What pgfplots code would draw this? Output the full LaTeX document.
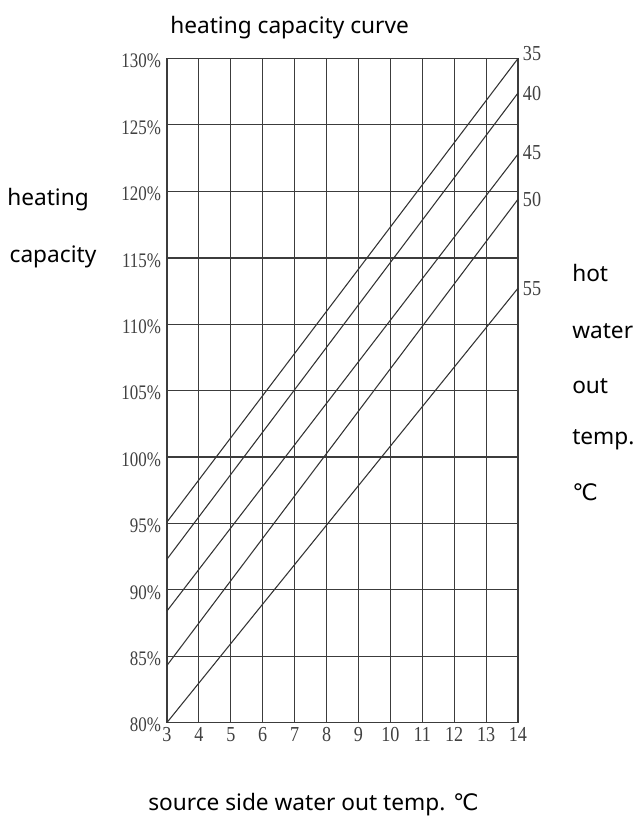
\documentclass[border=0pt]{standalone}
\usepackage{pgfplots}
\usepackage{pgfplotstable}
\pgfplotsset{compat=1.18}
\usepackage{fontspec}
\setmainfont{Liberation Serif}
\newfontfamily\labfont{Noto Sans}
\newfontfamily\symfont{DejaVu Sans}
\definecolor{gridc}{RGB}{60,60,60}
\pgfplotstableread{
x y
3 100
14 100
}\hundred
\pgfplotstableread{
x y
3 115
14 115
}\hfifteen
\begin{document}
\begin{tikzpicture}
\path[use as bounding box] (-125.25pt,-74.625pt) rectangle (350.25pt,541.875pt);
\begin{axis}[
  at={(0,0)}, anchor=south west,
  scale only axis,
  width=263.25pt, height=498pt,
  xmin=3, xmax=14, ymin=80, ymax=130,
  xtick={3,4,...,14},
  ytick={80,85,...,130},
  grid=major,
  major grid style={draw=gridc, line width=0.8pt},
  axis line style={draw=gridc, line width=0.9pt},
  tick style={draw=none},
  /pgf/number format/assume math mode=true,
  yticklabel={\scalebox{0.82}[1]{\pgfmathprintnumber{\tick}\%}},
  yticklabel style={font=\fontsize{15.5}{16}\selectfont, text=black!75, xshift=-1pt, yshift=-2pt},
  xticklabel={\scalebox{0.85}[1]{\pgfmathprintnumber{\tick}}},
  xticklabel style={font=\fontsize{16}{16}\selectfont, text=black!75},
  clip=false,
]
\addplot[gridc, line width=1.4pt, forget plot] table[x=x,y=y] {\hundred};
\addplot[gridc, line width=1.5pt, forget plot] table[x=x,y=y] {\hfifteen};
\addplot[black!80, line width=0.8pt] coordinates {(3,95.1) (14,130)} node[pos=1, anchor=west, font=\fontsize{16}{16}\selectfont, text=black!75, yshift=4pt, xshift=0pt] {\scalebox{0.85}[1]{35}};
\addplot[black!80, line width=0.8pt] coordinates {(3,92.3) (14,127.4)} node[pos=1, anchor=west, font=\fontsize{16}{16}\selectfont, text=black!75, yshift=0pt] {\scalebox{0.85}[1]{40}};
\addplot[black!80, line width=0.8pt] coordinates {(3,88.4) (14,122.8)} node[pos=1, anchor=west, font=\fontsize{16}{16}\selectfont, text=black!75, yshift=1pt] {\scalebox{0.85}[1]{45}};
\addplot[black!80, line width=0.8pt] coordinates {(3,84.3) (14,119.4)} node[pos=1, anchor=west, font=\fontsize{16}{16}\selectfont, text=black!75, yshift=0pt] {\scalebox{0.85}[1]{50}};
\addplot[black!80, line width=0.8pt] coordinates {(3,80) (14,112.7)} node[pos=1, anchor=west, font=\fontsize{16}{16}\selectfont, text=black!75, yshift=0pt] {\scalebox{0.85}[1]{55}};
\end{axis}
\begin{scope}[every node/.style={font=\labfont\fontsize{17}{18}\selectfont, inner sep=0pt}]
\node[anchor=west] at (2.25pt,521.25pt) {heating capacity curve};
\node at (-89.25pt,392.25pt) {heating};
\node at (-85.5pt,349.5pt) {capacity};
\node[anchor=west] at (303.75pt,336.75pt) {hot};
\node[anchor=west] at (303.75pt,293.25pt) {water};
\node[anchor=west] at (303.75pt,252pt) {out};
\node[anchor=west] at (303.75pt,212.25pt) {temp.};
\node[anchor=west] at (303.75pt,172.5pt) {\symfont ℃};
\node[anchor=west] at (-14.25pt,-61.5pt) {source side water out temp. {\symfont ℃}};
\end{scope}
\end{tikzpicture}
\end{document}
